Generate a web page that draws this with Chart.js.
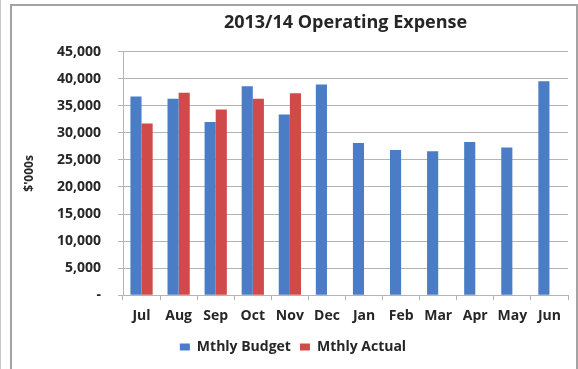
<!DOCTYPE html>
<html>
<head>
<meta charset="utf-8">
<script src="https://cdn.jsdelivr.net/npm/chart.js@4.4.0/dist/chart.umd.min.js"></script>
<style>
  html, body { margin: 0; padding: 0; background: #fff; }
  .wrap { position: relative; width: 578px; height: 369px; overflow: hidden; }
  .wrap canvas { position: absolute; left: 0; top: 0; }
  .frame {
    position: absolute; left: 10px; top: 4px; width: 564px; height: 380px;
    border: 2px solid #a3a3a3; border-bottom: none;
  }
  .edge { position: absolute; left: 0; top: 0; width: 1px; height: 369px; background: #c8c8c8; }
</style>
</head>
<body>
<div class="wrap">
  <canvas id="opex" width="578" height="369"></canvas>
  <div class="frame"></div>
  <div class="edge"></div>
</div>
<script>
  // monthly operating expense, $'000s
  const months = ["Jul", "Aug", "Sep", "Oct", "Nov", "Dec", "Jan", "Feb", "Mar", "Apr", "May", "Jun"];
  const budget = [36700, 36300, 32000, 38600, 33400, 38900, 28100, 26800, 26600, 28300, 27300, 39500];
  const actual = [31700, 37400, 34300, 36300, 37300, null, null, null, null, null, null, null];
  const yTicks = { min: 0, max: 45000, step: 5000 };

  const BLUE = "#4A7DC5";
  const RED = "#CF4A48";
  const GRID = "#b4b4b4";
  const TEXT = "#262626";
  const FONT = "'Open Sans', Lato, sans-serif";

  new Chart(document.getElementById("opex"), {
    type: "bar",
    data: {
      labels: months,
      datasets: [
        { label: "Mthly Budget", data: budget, backgroundColor: BLUE },
        { label: "Mthly Actual", data: actual, backgroundColor: RED }
      ]
    },
    options: {
      responsive: false,
      animation: false,
      devicePixelRatio: 1,
      layout: { padding: { left: 18, right: 10, top: 4, bottom: 5 } },
      datasets: {
        bar: { categoryPercentage: 0.6, barPercentage: 1.0, borderWidth: 0 }
      },
      scales: {
        x: {
          grid: {
            display: true,
            drawOnChartArea: false,
            offset: true,
            tickLength: 5,
            color: GRID
          },
          border: { color: GRID },
          ticks: {
            padding: 7,
            color: TEXT,
            font: { family: FONT, size: 14, weight: "bold" }
          }
        },
        y: {
          min: yTicks.min,
          max: yTicks.max,
          afterFit: (scale) => { scale.width = 105; },
          grid: { color: GRID, tickLength: 5 },
          border: { color: GRID },
          ticks: {
            stepSize: yTicks.step,
            padding: 17,
            color: TEXT,
            font: { family: FONT, size: 14, weight: "bold" },
            callback: (v) => (v === 0 ? "-" : v.toLocaleString("en-US"))
          },
          title: {
            display: true,
            text: "$'000s",
            color: TEXT,
            padding: { top: 4, bottom: 4 },
            font: { family: FONT, size: 12, weight: "bold" }
          }
        }
      },
      plugins: {
        title: {
          display: true,
          fullSize: false,
          text: "2013/14 Operating Expense",
          color: TEXT,
          padding: { top: 8, bottom: 18 },
          font: { family: FONT, size: 18, weight: "bold" }
        },
        legend: {
          position: "bottom",
          labels: {
            boxWidth: 10,
            boxHeight: 7,
            padding: 9,
            color: TEXT,
            font: { family: FONT, size: 14, weight: "bold" }
          }
        },
        tooltip: { enabled: false }
      }
    }
  });
</script>
</body>
</html>
